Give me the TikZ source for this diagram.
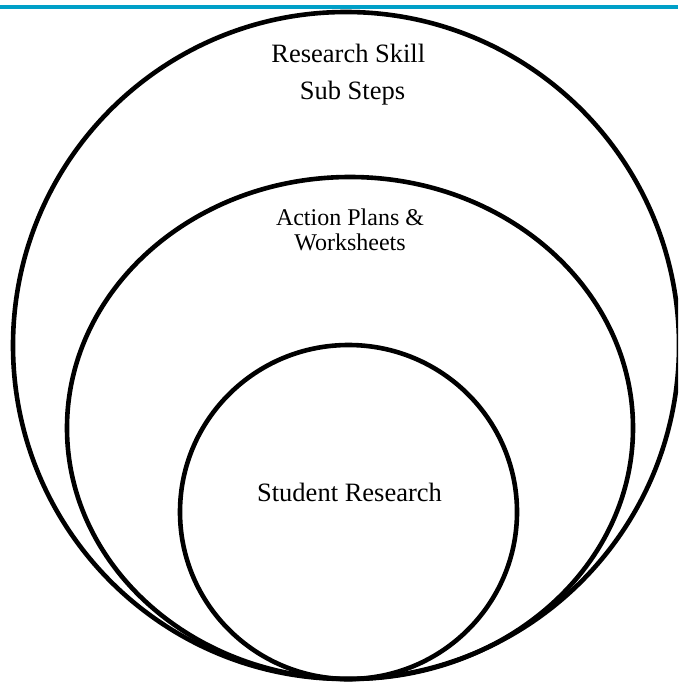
\documentclass[tikz,border=0pt]{standalone}
\usepackage{fontspec}
\setmainfont{Liberation Serif}
\usepackage{xcolor}
\definecolor{Bar-teal}{RGB}{0, 160, 200}
\usetikzlibrary{positioning}

\begin{document}
\begin{tikzpicture} [ % styles first
            x=1pt, y=-1pt,
            ring/.style = {line width=4.6pt, draw=black},
            big-text/.style = {font=\fontsize{26.5}{30}\selectfont, inner sep=0pt, anchor=base},
            mid-text/.style = {font=\fontsize{24}{25}\selectfont, inner sep=0pt, anchor=base, align=center}
        ]

        \useasboundingbox (0,0) rectangle (678,682);
        \clip (0,0) rectangle (678,682);

        % top bar
        \fill [Bar-teal] (0,5) rectangle (678,9);

        % rings
        \draw [ring] (346,345.5) ellipse [x radius=333, y radius=333.5];
        \draw [ring] (350,428) ellipse [x radius=283, y radius=251];
        \draw [ring] (348.5,512) ellipse [x radius=168.5, y radius=167];

        % outer ring text
        \node [big-text] (skill) at (348.3,62.3) {Research Skill};
        \node [big-text] (substeps) at (352.5,100) {Sub Steps};

        % middle ring text
        \node [mid-text] (plans) at (350,250.7) {Action Plans \&\\Worksheets};

        % inner ring text
        \node [big-text] (student) at (349.5,501.7) {Student Research};

    \end{tikzpicture}
\end{document}
